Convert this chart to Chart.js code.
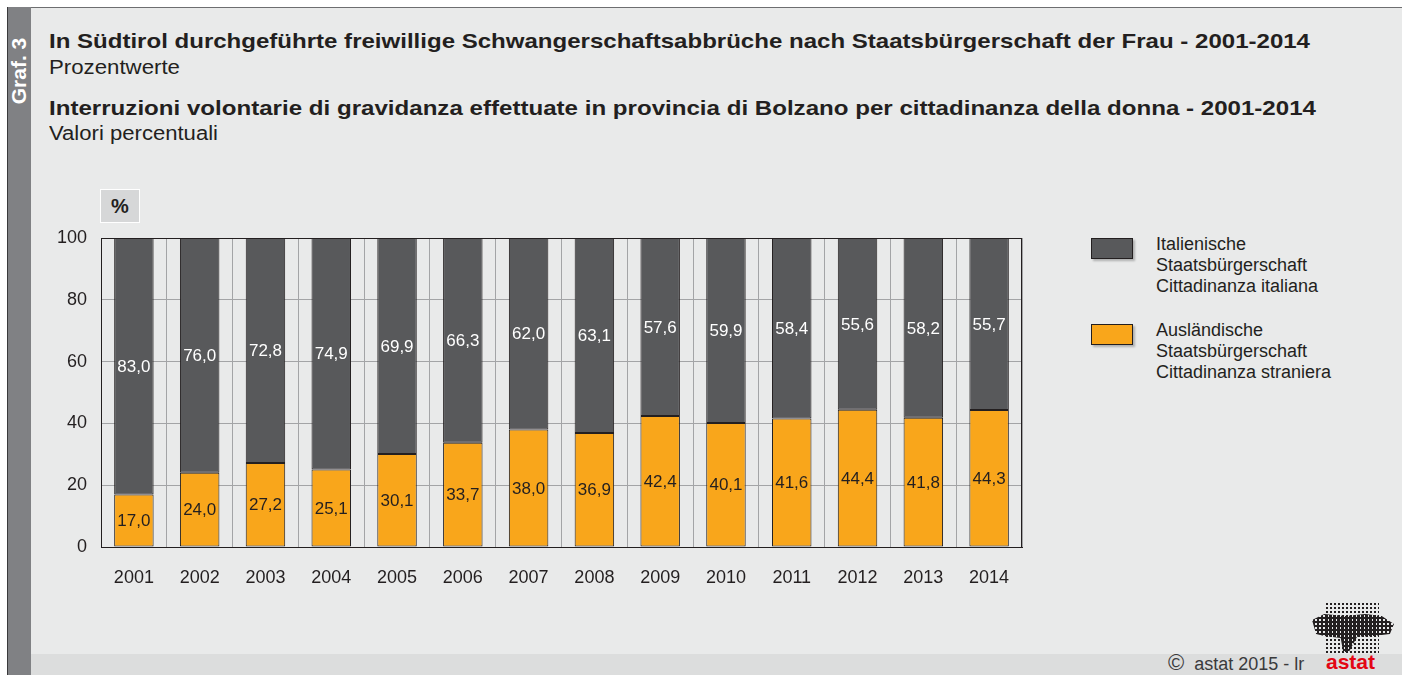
<!DOCTYPE html>
<html>
<head>
<meta charset="utf-8">
<script src="https://cdn.jsdelivr.net/npm/chart.js@4.4.1/dist/chart.umd.min.js"></script>
<style>
    html, body { margin: 0; padding: 0; background: #ffffff; }
    body { width: 1402px; height: 675px; position: relative; overflow: hidden; font-family: "Liberation Sans", Arial, sans-serif; color: #231f20; }
    .abs { position: absolute; }
    #panel { left: 31px; top: 8px; width: 1371px; height: 667px; background: #e9eaea; }
    #topline { left: 7px; top: 7px; width: 1395px; height: 1px; background: #6d6e70; }
    #strip { left: 7px; top: 7px; width: 24px; height: 668px; background: #808184; border-left: 1px solid #3a3a3c; box-sizing: border-box; }
    #graf { left: 19px; top: 71px; transform: translate(-50%, -50%) rotate(-90deg); color: #ffffff; font-weight: bold; font-size: 21px; white-space: nowrap; }
    .title { font-size: 21px; line-height: 21px; font-weight: bold; white-space: nowrap; left: 49px; transform-origin: 0 0; }
    .sub { font-size: 20px; line-height: 20px; white-space: nowrap; left: 49px; transform-origin: 0 0; }
    #pct { left: 100px; top: 189px; width: 40px; height: 34px; background: #d6d7d8; border: 1px solid #ffffff; box-sizing: border-box; font-weight: bold; font-size: 20px; line-height: 32px; text-align: center; }
    #footer { left: 31px; top: 654px; width: 1371px; height: 21px; background: #dcdddd; }
    #copy { left: 1168px; top: 652px; font-size: 18px; line-height: 21px; white-space: nowrap; color: #3a3a3c; }
    #copy span { font-size: 22px; }
    #logo-dots { left: 1325px; top: 602px; width: 54px; height: 52px; background-image: radial-gradient(circle, #231f20 1.0px, transparent 1.4px); background-size: 4px 4px; }
    #logo-blob { left: 1312px; top: 612px; width: 82px; height: 40px; background-image: radial-gradient(circle, #231f20 1.9px, transparent 2.1px); background-size: 4px 4px;
        clip-path: polygon(0% 20%, 15% 5%, 40% 10%, 65% 5%, 85% 10%, 100% 30%, 95% 55%, 75% 60%, 55% 62%, 45% 100%, 38% 100%, 35% 65%, 15% 60%, 5% 55%); }
    #logo-text { left: 1326px; top: 651px; font-size: 21px; line-height: 22px; font-weight: bold; color: #e30613; }
    #legend { left: 1091px; top: 234px; }
    .leg-item { position: absolute; left: 0; width: 300px; }
    .leg-box { position: absolute; left: 0; width: 42px; height: 21px; box-sizing: border-box; border: 1px solid #231f20; box-shadow: 2px 2px 2px rgba(0,0,0,0.25); }
    .leg-text { position: absolute; left: 65px; top: 0; font-size: 18px; line-height: 21px; white-space: nowrap; color: #231f20; }
    #chart { position: absolute; left: 0; top: 0; }
</style>
</head>
<body>
<div id="panel" class="abs"></div>
<div id="footer" class="abs"></div>
<div id="topline" class="abs"></div>
<div id="strip" class="abs"></div>
<div id="graf" class="abs">Graf. 3</div>

<div class="abs title" data-w="1261" style="top:30px">In Südtirol durchgeführte freiwillige Schwangerschaftsabbrüche nach Staatsbürgerschaft der Frau - 2001-2014</div>
<div class="abs sub" data-w="131" style="top:57px">Prozentwerte</div>
<div class="abs title" data-w="1267" style="top:97px">Interruzioni volontarie di gravidanza effettuate in provincia di Bolzano per cittadinanza della donna - 2001-2014</div>
<div class="abs sub" data-w="169" style="top:123px">Valori percentuali</div>

<div id="pct" class="abs">%</div>
<div id="legend" class="abs"></div>

<div id="copy" class="abs"><span>©</span>&nbsp; astat 2015 - lr</div>
<div id="logo-dots" class="abs"></div>
<div id="logo-blob" class="abs"></div>
<div id="logo-text" class="abs">astat</div>

<canvas id="chart" width="1402" height="675"></canvas>

<script>
const years = ['2001', '2002', '2003', '2004', '2005', '2006', '2007', '2008', '2009', '2010', '2011', '2012', '2013', '2014'];
const italianShare = [83.0, 76.0, 72.8, 74.9, 69.9, 66.3, 62.0, 63.1, 57.6, 59.9, 58.4, 55.6, 58.2, 55.7];
const foreignShare = [17.0, 24.0, 27.2, 25.1, 30.1, 33.7, 38.0, 36.9, 42.4, 40.1, 41.6, 44.4, 41.8, 44.3];
const yTicks = [0, 20, 40, 60, 80, 100];

const italianLabel = ['Italienische', 'Staatsbürgerschaft', 'Cittadinanza italiana'];
const foreignLabel = ['Ausländische', 'Staatsbürgerschaft', 'Cittadinanza straniera'];

const darkGrey = '#58595b';
const orange = '#f9a61b';
const ink = '#231f20';

// stretch heading text to the width it has in the original
document.querySelectorAll('[data-w]').forEach(el => {
    const w = el.getBoundingClientRect().width;
    el.style.transform = `scaleX(${Number(el.dataset.w) / w})`;
});

// legend (html, real text)
const legend = document.getElementById('legend');
[[italianLabel, darkGrey, 0], [foreignLabel, orange, 86]].forEach(([lines, color, top]) => {
    const item = document.createElement('div');
    item.className = 'leg-item';
    item.style.top = top + 'px';
    item.innerHTML = `<div class="leg-box" style="top:4px;background:${color}"></div>` +
        `<div class="leg-text">${lines.join('<br>')}</div>`;
    legend.appendChild(item);
});

const fmt = v => v.toFixed(1).replace('.', ',');

const barLabels = {
    id: 'barLabels',
    afterDatasetsDraw(chart) {
        const ctx = chart.ctx;
        const area = chart.chartArea;
        ctx.save();
        ctx.strokeStyle = ink;
        ctx.lineWidth = 1;
        ctx.strokeRect(area.left + 0.5, area.top + 0.5, area.right - area.left - 1, area.bottom - area.top);
        ctx.font = '17px "Liberation Sans", Arial, sans-serif';
        ctx.textAlign = 'center';
        ctx.textBaseline = 'middle';
        chart.data.datasets.forEach((ds, i) => {
            const meta = chart.getDatasetMeta(i);
            meta.data.forEach((bar, j) => {
                const p = bar.getProps(['x', 'y', 'base'], true);
                ctx.fillStyle = ds.labelColor;
                ctx.fillText(fmt(ds.data[j]), p.x, (p.y + p.base) / 2 + 1);
            });
        });
        ctx.restore();
    }
};

const ctx = document.getElementById('chart').getContext('2d');
const chart = new Chart(ctx, {
    type: 'bar',
    data: {
        labels: years,
        datasets: [
            {
                label: foreignLabel.join(' '),
                data: foreignShare,
                backgroundColor: orange,
                borderColor: ink,
                borderWidth: 1,
                borderSkipped: false,
                labelColor: ink
            },
            {
                label: italianLabel.join(' '),
                data: italianShare,
                backgroundColor: darkGrey,
                borderColor: ink,
                borderWidth: 1,
                borderSkipped: false,
                labelColor: '#ffffff'
            }
        ]
    },
    options: {
        responsive: false,
        animation: false,
        devicePixelRatio: 1,
        layout: {
            padding: { left: 0, top: 238, right: 380, bottom: 0 }
        },
        datasets: {
            bar: { barPercentage: 0.6, categoryPercentage: 1.0 }
        },
        plugins: {
            legend: { display: false },
            tooltip: { enabled: false }
        },
        scales: {
            x: {
                stacked: true,
                grid: { color: '#a3a4a6', lineWidth: 1, drawTicks: false, offset: true },
                border: { color: ink, width: 1 },
                ticks: { color: ink, font: { size: 18, family: '"Liberation Sans", Arial, sans-serif' }, padding: 20 },
                afterFit: scale => { scale.height = 128; }
            },
            y: {
                stacked: true,
                min: 0,
                max: 100,
                afterBuildTicks: scale => { scale.ticks = yTicks.map(v => ({ value: v })); },
                grid: { color: '#a3a4a6', lineWidth: 1, drawTicks: false },
                border: { color: ink, width: 1 },
                ticks: { color: ink, font: { size: 18, family: '"Liberation Sans", Arial, sans-serif' }, padding: 14 },
                afterFit: scale => { scale.width = 101; }
            }
        }
    },
    plugins: [barLabels]
});
</script>
</body>
</html>
